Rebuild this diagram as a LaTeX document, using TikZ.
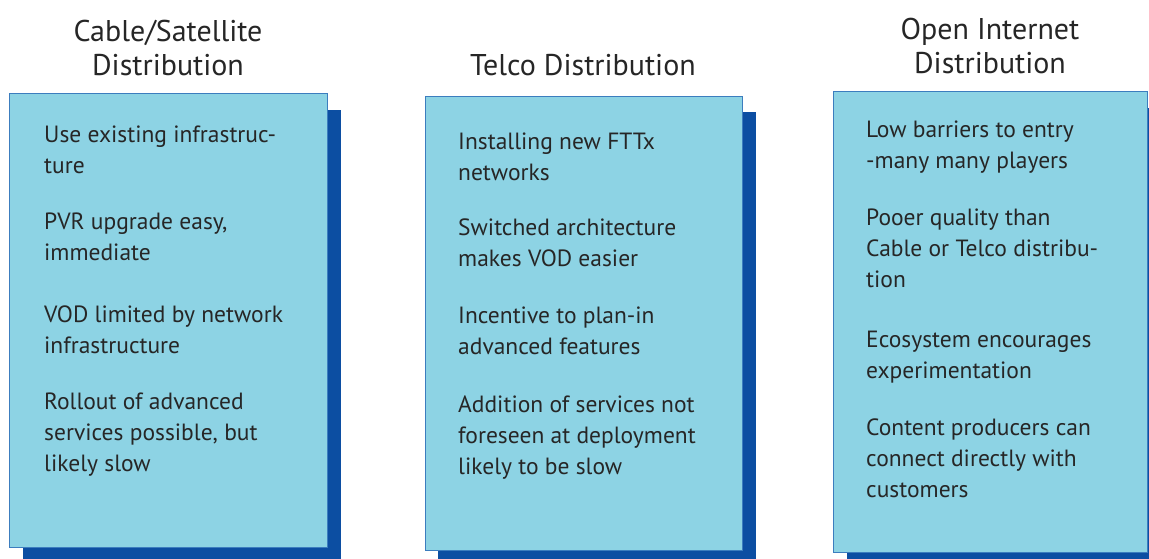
\documentclass[tikz,border=0pt]{standalone}
\usepackage{fontspec}
\setmainfont{PT Sans}
\definecolor{boxfill}{RGB}{141,211,228}
\definecolor{boxline}{RGB}{60,125,190}
\definecolor{boxshadow}{RGB}{12,78,162}
\tikzset{
  panel/.style={draw=boxline, fill=boxfill, line width=0.8pt, inner sep=0pt, anchor=north west},
  title/.style={font=\fontsize{30}{34}\selectfont, align=center, text=black!85},
  item/.style={font=\fontsize{23.5}{31}\selectfont, align=left, anchor=base west, inner sep=0pt, text=black!85}
}
\begin{document}
\begin{tikzpicture}[x=1pt,y=-1pt]
\useasboundingbox (0,0) rectangle (1149,558);
% titles
\node[title] (T1) at (168,48) {Cable/Satellite\\Distribution};
\node[title] (T2) at (583,65) {Telco Distribution};
\node[title] (T3) at (990,46) {Open Internet\\Distribution};
% shadows
\fill[boxshadow] (23,110) rectangle (341,560);
\fill[boxshadow] (438,112) rectangle (756,560);
\fill[boxshadow] (847,108) rectangle (1162,560);
% panels
\node[panel, minimum width=318pt, minimum height=454pt] (B1) at (9,93) {};
\node[panel, minimum width=317pt, minimum height=454pt] (B2) at (425,96) {};
\node[panel, minimum width=314pt, minimum height=461pt] (B3) at (833,91) {};
% cable/satellite (base = last line)
\node[item] (C1) at (44,173) {Use existing infrastruc-\\ture};
\node[item] (C2) at (44,260) {PVR upgrade easy,\\immediate};
\node[item] (C3) at (44,353) {VOD limited by network\\infrastructure};
\node[item] (C4) at (44,471) {Rollout of advanced\\services possible, but\\likely slow};
% telco
\node[item] (D1) at (458,180) {Installing new FTTx\\networks};
\node[item] (D2) at (458,266) {Switched architecture\\makes VOD easier};
\node[item] (D3) at (458,354) {Incentive to plan-in\\advanced features};
\node[item] (D4) at (458,474) {Addition of services not\\foreseen at deployment\\likely to be slow};
% open internet
\node[item] (E1) at (866,168) {Low barriers to entry\\-many many players};
\node[item] (E2) at (866,287) {Pooer quality than\\Cable or Telco distribu-\\tion};
\node[item] (E3) at (866,378) {Ecosystem encourages\\experimentation};
\node[item] (E4) at (866,497) {Content producers can\\connect directly with\\customers};
\end{tikzpicture}
\end{document}
